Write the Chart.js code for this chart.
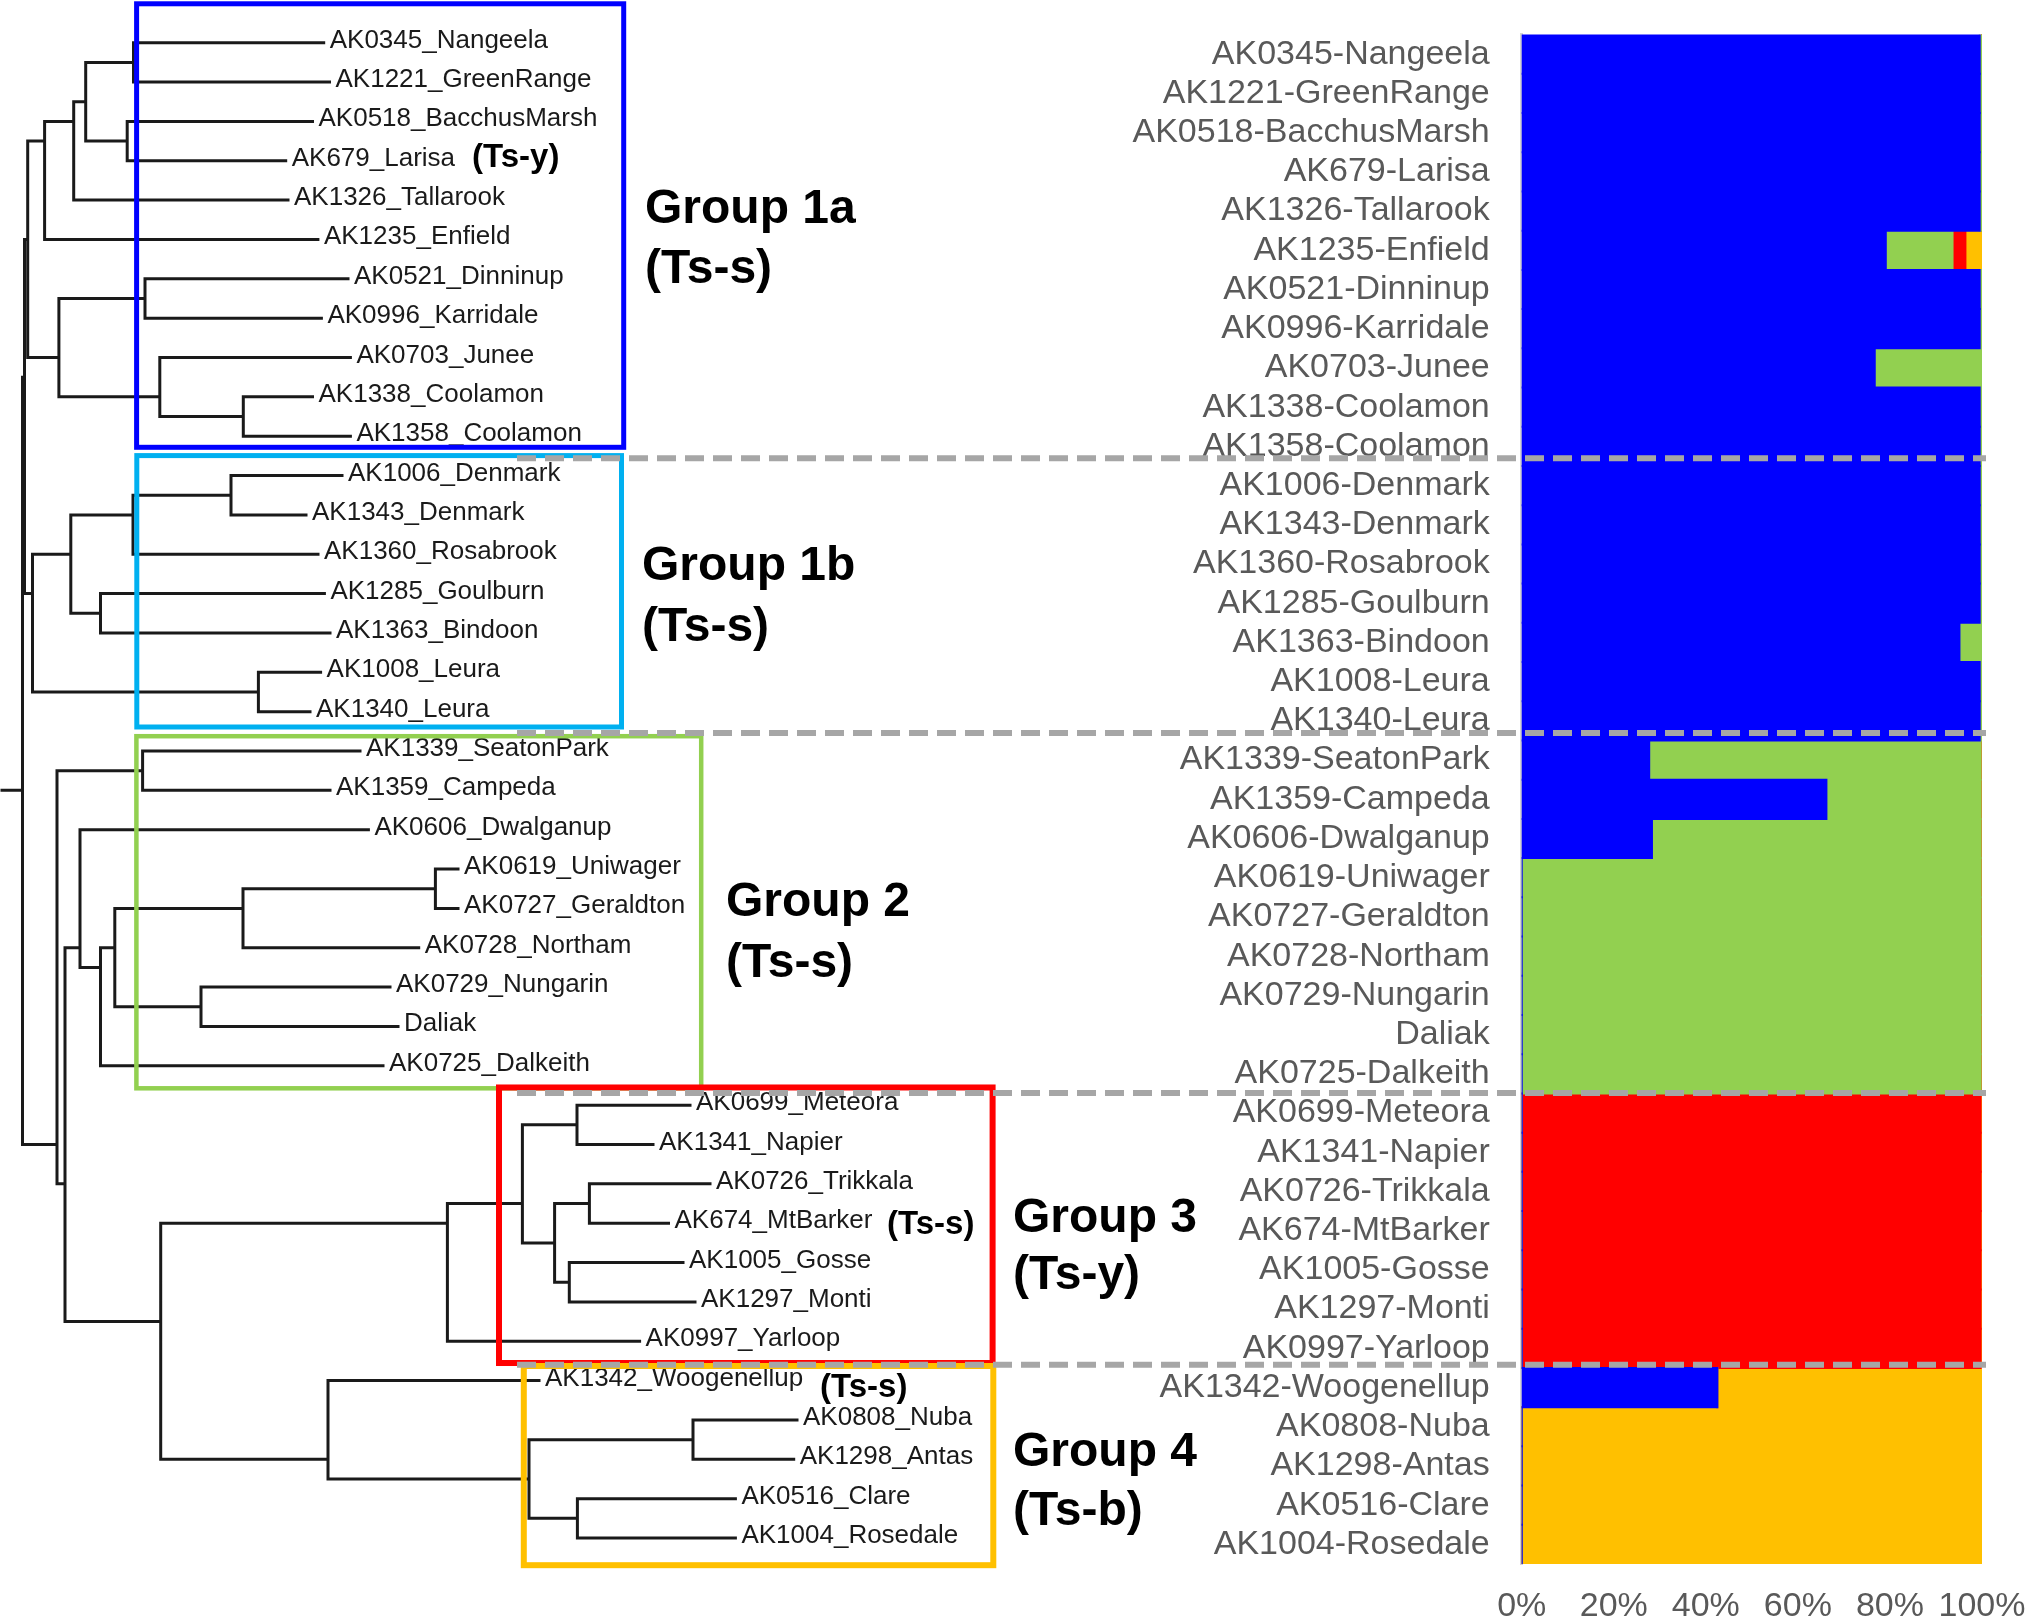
<!DOCTYPE html>
<html>
<head>
<meta charset="utf-8">
<script src="https://cdn.jsdelivr.net/npm/chart.js@4.4.1/dist/chart.umd.min.js"></script>
<style>
html,body{margin:0;padding:0;background:#ffffff;}
#wrap{position:relative;width:2025px;height:1618px;overflow:hidden;background:#fff;}
#wrap canvas{position:absolute;left:0;top:0;}
</style>
</head>
<body>
<div id="wrap">
<canvas id="tree" width="2025" height="1618"></canvas>
<canvas id="bars" width="2025" height="1618"></canvas>
</div>
<script>
// ---------------- DATA ----------------
const samples = [
  "AK0345_Nangeela","AK1221_GreenRange","AK0518_BacchusMarsh","AK679_Larisa","AK1326_Tallarook",
  "AK1235_Enfield","AK0521_Dinninup","AK0996_Karridale","AK0703_Junee","AK1338_Coolamon","AK1358_Coolamon",
  "AK1006_Denmark","AK1343_Denmark","AK1360_Rosabrook","AK1285_Goulburn","AK1363_Bindoon","AK1008_Leura","AK1340_Leura",
  "AK1339_SeatonPark","AK1359_Campeda","AK0606_Dwalganup","AK0619_Uniwager","AK0727_Geraldton","AK0728_Northam",
  "AK0729_Nungarin","Daliak","AK0725_Dalkeith",
  "AK0699_Meteora","AK1341_Napier","AK0726_Trikkala","AK674_MtBarker","AK1005_Gosse","AK1297_Monti","AK0997_Yarloop",
  "AK1342_Woogenellup","AK0808_Nuba","AK1298_Antas","AK0516_Clare","AK1004_Rosedale"
];

// depth (distance from left) of each leaf tip in the dendrogram
const tipDepth = [
  323.7,329.5,312.5,285.7,288.0,317.9,348.0,321.4,350.4,312.5,350.4,
  342.0,306.0,318.0,324.4,330.0,320.6,310.0,
  360.0,330.0,368.4,458.0,458.0,418.7,390.0,398.0,383.0,
  690.0,653.0,710.0,668.5,683.0,695.0,639.6,
  539.0,797.0,793.7,735.4,735.4
];

// hclust-style merges: negative = leaf (-(index+1)), positive = earlier merge (1-based)
const mergeLeft  = [-1,-3, 1, 3, 4,-7,-10,-9, 6, 5,-12,11,-15,12,-17,14,10,-19,-22,19,-25,20,22,-21,-28,-30,-32,26,25,29,-36,-38,31,-35,30,24,18,17];
const mergeRight = [-2,-4, 2,-5,-6,-8,-11, 7, 8, 9,-13,-14,-16,13,-18,15,16,-20,-23,-24,-26,21,-27,23,-29,-31,-33,27,28,-34,-37,-39,32,33,34,35,36,37];
const mergeDepth = [133.5,127.2,85.7,73.7,44.6,145.0,243.3,159.8,58.9,27.7,231.0,133.0,100.5,70.8,258.4,32.5,24.5,
                    142.6,435.4,243.0,201.0,114.8,100.5,80.0,577.0,589.4,569.3,554.6,522.4,447.4,693.0,577.4,529.0,328.0,160.7,65.0,57.0,22.5];
const rootStubDepth = 2;

// admixture proportions (%) per sample, same order as samples
const blueShare   = [99.5,99.5,99.5,99.5,99.5,79.1,99.5,99.5,76.7,99.5,99.5,
                     99.5,99.5,99.5,99.5,95.1,99.5,99.5,
                     27.7,66.2,28.3,0,0,0,0,0,0,
                     0,0,0,0,0,0,0,
                     42.5,0,0,0,0];
const greenShare  = [0.5,0.5,0.5,0.5,0.5,14.5,0.5,0.5,23.3,0.5,0.5,
                     0.5,0.5,0.5,0.5,4.9,0.5,0.5,
                     72.0,33.5,71.4,99.7,99.7,99.7,99.7,99.7,99.7,
                     0,0,0,0,0,0,0,
                     0,0,0,0,0];
const redShare    = [0,0,0,0,0,2.8,0,0,0,0,0,
                     0,0,0,0,0,0,0,
                     0,0,0,0,0,0,0,0,0,
                     99.7,99.7,99.7,99.7,99.7,99.7,99.7,
                     0,0,0,0,0];
const yellowShare = [0,0,0,0,0,3.6,0,0,0,0,0,
                     0,0,0,0,0,0,0,
                     0.3,0.3,0.3,0.3,0.3,0.3,0.3,0.3,0.3,
                     0.3,0.3,0.3,0.3,0.3,0.3,0.3,
                     57.5,100,100,100,100];

const xTicks = [0,20,40,60,80,100];
const groupNames = ["Group 1a","Group 1b","Group 2","Group 3","Group 4"];
const groupTypes = ["(Ts-s)","(Ts-s)","(Ts-s)","(Ts-y)","(Ts-b)"];
const noteTexts  = ["(Ts-y)","(Ts-s)","(Ts-s)"];

const barLabels = samples.map(s => s.replace('_','-'));

// ---------------- TREE GEOMETRY ----------------
const nodes = [];
function childInfo(c){
  if (c < 0){ const i = -c-1; return {x: tipDepth[i], y: i, leaves:[i]}; }
  return nodes[c-1];
}
const segs = [];
for (let k = 0; k < mergeDepth.length; k++){
  const L = childInfo(mergeLeft[k]), R = childInfo(mergeRight[k]);
  const leaves = L.leaves.concat(R.leaves);
  const y = leaves.reduce((a,b)=>a+b,0)/leaves.length;
  const x = mergeDepth[k];
  nodes.push({x, y, leaves});
  segs.push({x:L.x,y:L.y},{x:x,y:L.y},{x:x,y:R.y},{x:R.x,y:R.y},{x:NaN,y:NaN});
}
const root = nodes[nodes.length-1];
segs.push({x:rootStubDepth,y:root.y},{x:root.x,y:root.y});

const SANS = '"Liberation Sans", Arial, Helvetica, sans-serif';

// ---------------- TREE DECORATION PLUGIN ----------------
const boxes = [ // depth range and leaf-index range
  {x0:136.6, x1:623.7, y0:-0.989, y1:10.282, color:'#0000FF', w:5},
  {x0:136.8, x1:621.5, y0:10.493, y1:17.390, color:'#00B0F0', w:5},
  {x0:136.4, x1:701.2, y0:17.624, y1:26.572, color:'#92D050', w:4.5},
  {x0:499.0, x1:992.6, y0:26.551, y1:33.553, color:'#FF0000', w:6},
  {x0:523.8, x1:993.3, y0:33.629, y1:38.691, color:'#FFC000', w:6}
];
const groupPos = [[645,206,266],[642,563,624],[726,899,960],[1013,1215,1272],[1013,1449,1508]];
const notePos = [[472,155],[887,1222],[820,1385]];

const treeDecor = {
  id:'treeDecor',
  afterDatasetsDraw(chart){
    const ctx = chart.ctx, xs = chart.scales.x, ys = chart.scales.y;
    ctx.save();
    ctx.font = '26px ' + SANS;
    ctx.fillStyle = '#1a1a1a';
    ctx.textAlign = 'left';
    ctx.textBaseline = 'alphabetic';
    samples.forEach((s,i)=>{
      ctx.fillText(s, xs.getPixelForValue(tipDepth[i]) + 6, ys.getPixelForValue(i) + 5);
    });
    ctx.font = 'bold 33px ' + SANS;
    ctx.fillStyle = '#000';
    noteTexts.forEach((t,k)=>{
      ctx.fillText(t, notePos[k][0], notePos[k][1] + 0.358*33);
    });
    boxes.forEach(b=>{
      ctx.strokeStyle = b.color; ctx.lineWidth = b.w;
      const x0 = xs.getPixelForValue(b.x0), x1 = xs.getPixelForValue(b.x1);
      const y0 = ys.getPixelForValue(b.y0), y1 = ys.getPixelForValue(b.y1);
      ctx.strokeRect(x0, y0, x1-x0, y1-y0);
    });
    ctx.font = 'bold 48px ' + SANS;
    ctx.fillStyle = '#000';
    groupNames.forEach((g,k)=>{
      const p = groupPos[k];
      ctx.fillText(g, p[0], p[1] + 0.358*48);
      ctx.fillText(groupTypes[k], p[0], p[2] + 0.358*48);
    });
    ctx.restore();
  }
};

new Chart(document.getElementById('tree'), {
  type:'scatter',
  data:{datasets:[{data:segs, showLine:true, spanGaps:false, borderColor:'#1a1a1a', borderWidth:3,
    pointRadius:0, pointHoverRadius:0, tension:0, clip:false, borderCapStyle:'square', borderJoinStyle:'miter'}]},
  options:{
    responsive:false, animation:false, events:[], devicePixelRatio:1,
    layout:{padding:{left:0,right:1025,top:42.7,bottom:80}},
    plugins:{legend:{display:false}, tooltip:{enabled:false}},
    scales:{
      x:{type:'linear', min:0, max:1000, display:false},
      y:{type:'linear', min:0, max:38, reverse:true, display:false}
    }
  },
  plugins:[treeDecor]
});

// ---------------- BAR CHART ----------------
const separatorRows = [10.30, 17.31, 26.49, 33.42];
const separators = {
  id:'separators',
  afterDatasetsDraw(chart){
    const ctx = chart.ctx, ys = chart.scales.y;
    ctx.save();
    ctx.strokeStyle = '#a6a6a6';
    ctx.lineWidth = 6;
    ctx.setLineDash([19,9]);
    separatorRows.forEach(v=>{
      const y = ys.getPixelForValue(v);
      ctx.beginPath(); ctx.moveTo(517, y); ctx.lineTo(chart.chartArea.right + 4, y); ctx.stroke();
    });
    ctx.restore();
  }
};

function noPad(s){ s.paddingTop = 0; s.paddingBottom = 0; s.paddingLeft = 0; s.paddingRight = 0; }

new Chart(document.getElementById('bars'), {
  type:'bar',
  data:{
    labels: barLabels,
    datasets:[
      {label:'K1', data:blueShare,   backgroundColor:'#0000FF'},
      {label:'K2', data:greenShare,  backgroundColor:'#92D050'},
      {label:'K3', data:redShare,    backgroundColor:'#FF0000'},
      {label:'K4', data:yellowShare, backgroundColor:'#FFC000'}
    ]
  },
  options:{
    indexAxis:'y', responsive:false, animation:false, events:[], devicePixelRatio:1,
    layout:{padding:{left:0,right:43,top:34.6,bottom:0}},
    datasets:{bar:{barPercentage:1, categoryPercentage:1, borderWidth:0, inflateAmount:1}},
    plugins:{legend:{display:false}, tooltip:{enabled:false}},
    scales:{
      x:{
        stacked:true, min:0, max:100,
        afterBuildTicks:(s)=>{ s.ticks = xTicks.map(v=>({value:v})); },
        grid:{display:false, drawTicks:false}, border:{display:false},
        ticks:{color:'#595959', font:{family:SANS, size:34}, padding:22.5, maxRotation:0, autoSkip:false,
               callback:(v)=> v + '%'},
        afterFit:(s)=>{ s.height = 54; noPad(s); }
      },
      y:{
        stacked:true,
        grid:{display:false, drawTicks:false},
        border:{display:true, color:'#d4d4d4', width:3},
        ticks:{color:'#595959', font:{family:SANS, size:34}, padding:32, autoSkip:false},
        afterFit:(s)=>{ s.width = 1521.7; noPad(s); }
      }
    }
  },
  plugins:[separators]
});
</script>
</body>
</html>
